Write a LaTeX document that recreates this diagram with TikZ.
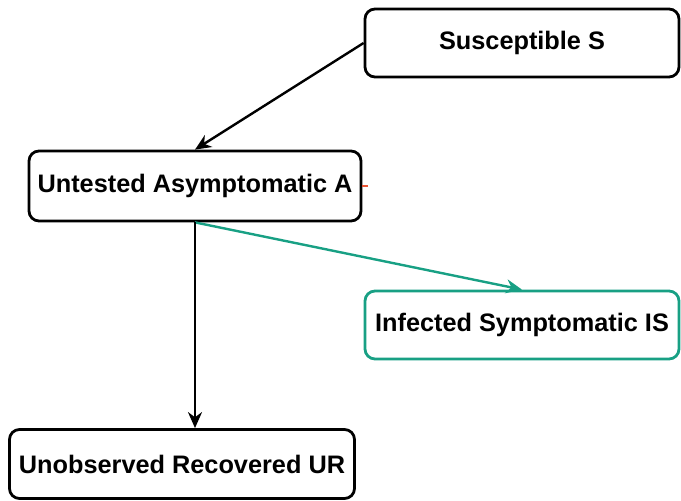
\documentclass[tikz,border=0pt]{standalone}
\usepackage{fontspec}
\setmainfont{Liberation Sans}
\usepackage{tikz}
\usetikzlibrary{calc,positioning,arrows.meta}
\definecolor{symgreen}{RGB}{24,160,132}
\definecolor{tickred}{RGB}{232,84,52}

\begin{document}
\begin{tikzpicture}[x=1pt, y=1pt]
\tikzstyle{cmp}=[rectangle, draw, rounded corners=10pt, line width=2.8pt,
                        fill=white, inner sep=0pt, font=\fontsize{25.3}{30}\selectfont\bfseries]
 \tikzstyle{flow}=[line width=2.4pt, -{Stealth[length=16pt, width=14pt]}]
\useasboundingbox (0,0) rectangle (681,501);
\node[cmp, minimum width=314pt, minimum height=68pt] (S) at (522,458) {Susceptible S};
\node[cmp, minimum width=332pt, minimum height=70pt] (A) at (195,315) {Untested Asymptomatic A};
\node[cmp, draw=symgreen, minimum width=314pt, minimum height=68pt] (IS) at (522,176) {Infected Symptomatic IS};
\node[cmp, minimum width=345pt, minimum height=69pt] (UR) at (182,37) {Unobserved Recovered UR};
\coordinate (tick) at ([xshift=6pt]A.east);
%\draw (S) -- (A);
\foreach \i/\j/\c in {S.west/A.north/black,A.south/IS.north/symgreen}{\draw[flow, draw=\c, fill=\c] (\i) -- (\j);}
\draw[flow] (A.south) -- (A.south |- UR.north);
\draw[tickred, line width=2pt] (A.east) -- (tick);
\end{tikzpicture}
\end{document}
